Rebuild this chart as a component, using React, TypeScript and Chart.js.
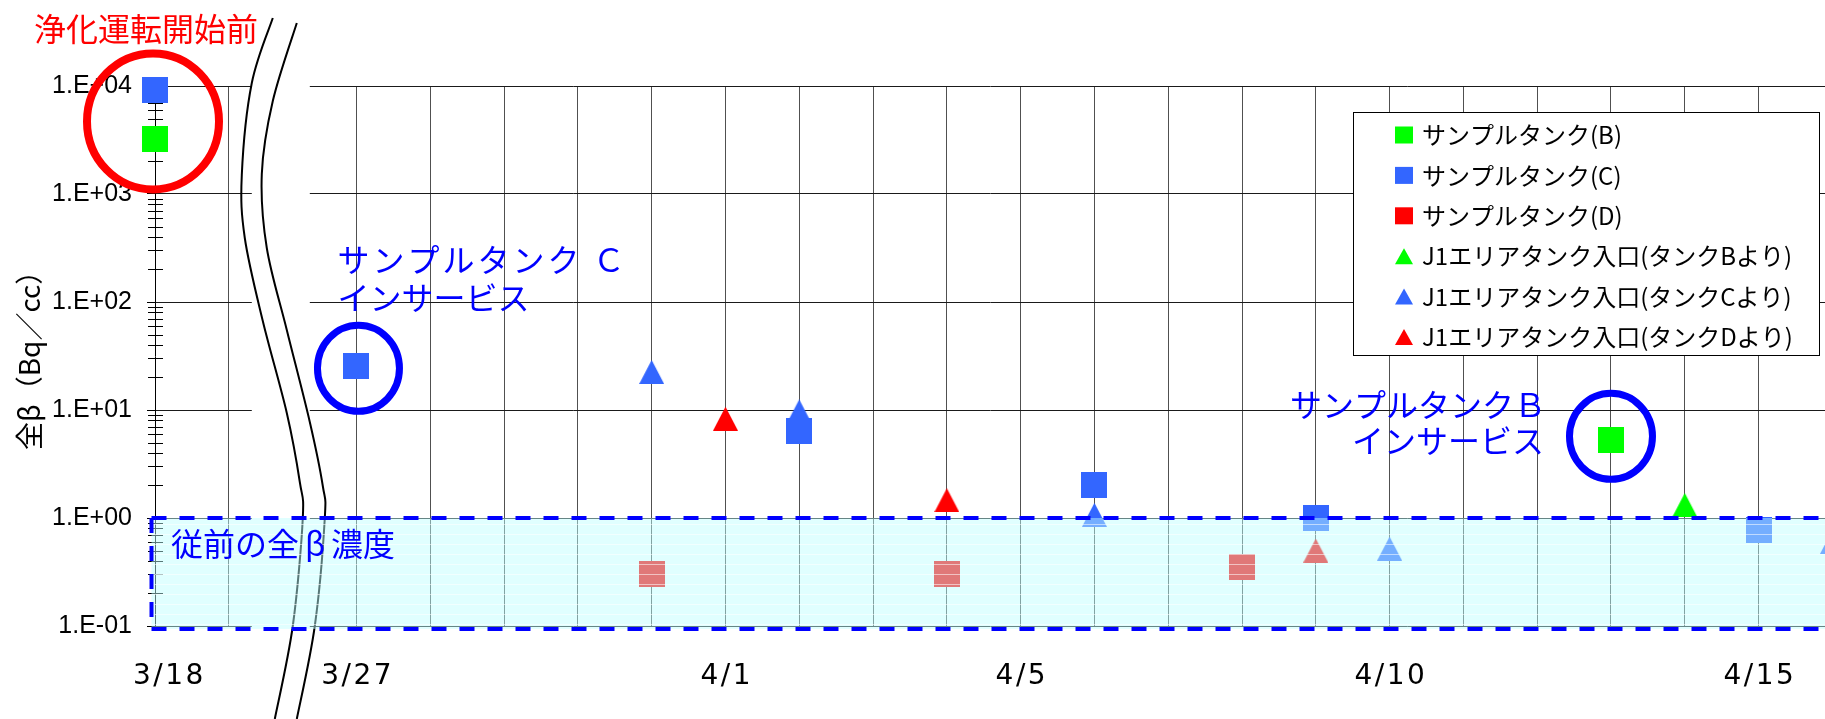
import React, { useEffect, useRef } from 'react';
import { Chart, registerables } from 'chart.js';

Chart.register(...registerables);

// ---------------- data ----------------
const SAMPLE_B_DATES = ['3/18', '4/13'];
const SAMPLE_B_VALUES = [3200, 5.3];

const SAMPLE_C_DATES = ['3/18', '3/27', '4/2', '4/6', '4/9', '4/15'];
const SAMPLE_C_VALUES = [9200, 25.5, 6.4, 2.0, 1.0, 0.77];

const SAMPLE_D_DATES = ['3/31', '4/4', '4/8'];
const SAMPLE_D_VALUES = [0.305, 0.305, 0.355];

const J1_B_DATES = ['4/14'];
const J1_B_VALUES = [1.32];

const J1_C_DATES = ['3/31', '4/2', '4/6', '4/10', '4/16'];
const J1_C_VALUES = [22.5, 9.7, 1.07, 0.52, 0.6];

const J1_D_DATES = ['4/1', '4/4', '4/9'];
const J1_D_VALUES = [8.3, 1.46, 0.5];

const SERIES_LABELS = [
  'サンプルタンク(B)',
  'サンプルタンク(C)',
  'サンプルタンク(D)',
  'J1エリアタンク入口(タンクBより)',
  'J1エリアタンク入口(タンクCより)',
  'J1エリアタンク入口(タンクDより)',
];

const X_TICK_LABELS = ['3/18', '3/27', '4/1', '4/5', '4/10', '4/15'];
const Y_TICK_VALUES = [0.1, 1, 10, 100, 1000, 10000];
const Y_TICK_LABELS = ['1.E-01', '1.E+00', '1.E+01', '1.E+02', '1.E+03', '1.E+04'];
const Y_TITLE = '全β（Bq／cc）';

const BAND_RANGE = [0.094, 1];
const BAND_LABEL = '従前の全β濃度';

const NOTE_BEFORE = '浄化運転開始前';
const NOTE_C = ['サンプルタンク Ｃ', 'インサービス'];
const NOTE_B = ['サンプルタンクＢ', 'インサービス'];

const CIRCLE_DATES = ['3/18', '3/27', '4/13'];
const CIRCLE_VALUES = [4700, 24.3, 5.7];

// axis break: 3/19 ... 3/27 compressed
const BREAK_START = '3/19';
const BREAK_END = '3/27';
const BREAK_WIDTH_DAYS = 1.73;

// ---------------- helpers ----------------
function dayIndex(d: string): number {
  const [m, dd] = d.split('/').map(Number);
  return m === 3 ? dd - 18 : 13 + dd;
}
function axisPos(d: string): number {
  const i = dayIndex(d);
  const s = dayIndex(BREAK_START);
  const e = dayIndex(BREAK_END);
  if (i <= s) return i;
  return i - (e - s) + BREAK_WIDTH_DAYS;
}
const X_MAX = axisPos('4/16') - 0.1;

const GRID_DATES: string[] = [BREAK_START];
for (let d = 27; d <= 31; d++) GRID_DATES.push(`3/${d}`);
for (let d = 1; d <= 16; d++) GRID_DATES.push(`4/${d}`);

const COLOR_B = '#00FF00';
const COLOR_C = '#3366FF';
const COLOR_D = '#FF0000';

function makeMarker(kind: string, color: string, w: number, h: number) {
  const c = document.createElement('canvas');
  c.width = w;
  c.height = h;
  const g = c.getContext('2d') as CanvasRenderingContext2D;
  g.fillStyle = color;
  if (kind === 'square') g.fillRect(0, 0, w, h);
  else {
    g.beginPath();
    g.moveTo(w / 2, 0);
    g.lineTo(w, h);
    g.lineTo(0, h);
    g.closePath();
    g.fill();
  }
  return c;
}

function drawWide(ctx: CanvasRenderingContext2D, text: string, x: number, y: number, em: number) {
  let cx = x;
  for (const ch of Array.from(text)) {
    const code = ch.codePointAt(0) || 0;
    const w = code >= 0x370 ? em : ctx.measureText(ch).width;
    ctx.textAlign = 'center';
    ctx.fillText(ch, cx + w / 2, y);
    cx += w;
  }
}

function smoothPath(ctx: CanvasRenderingContext2D, pts: number[][]) {
  ctx.moveTo(pts[0][0], pts[0][1]);
  for (let i = 0; i < pts.length - 1; i++) {
    const p0 = pts[Math.max(0, i - 1)];
    const p1 = pts[i];
    const p2 = pts[i + 1];
    const p3 = pts[Math.min(pts.length - 1, i + 2)];
    ctx.bezierCurveTo(
      p1[0] + (p2[0] - p0[0]) / 6, p1[1] + (p2[1] - p0[1]) / 6,
      p2[0] - (p3[0] - p1[0]) / 6, p2[1] - (p3[1] - p1[1]) / 6,
      p2[0], p2[1]
    );
  }
}

// break curve shapes (offsets from break centre / chart top)
const CURVE_L = [[-8, -68], [-29, -3], [-39, 89], [-36, 152], [-18, 235], [6, 327], [19, 396], [22, 432], [12, 540], [-6, 633]];
const CURVE_R = [[16, -63], [-8, 15], [-19, 88], [-14, 162], [6, 244], [29, 336], [42, 400], [44, 432], [34, 540], [16, 633]];

const CIRCLE_STYLES = [
  { rx: 66, ry: 68, w: 8, color: '#FF0000', dx: -2 },
  { rx: 41, ry: 43, w: 7, color: '#0000FF', dx: 2 },
  { rx: 41.5, ry: 43, w: 7, color: '#0000FF', dx: 0 },
];

const decorPlugin = {
  id: 'decor',
  beforeDatasetsDraw(chart: any) {
    const { ctx, chartArea: a } = chart;
    const x = chart.scales.x;
    const y = chart.scales.y;
    ctx.save();
    // minor ticks crossing the axis
    ctx.strokeStyle = '#000';
    ctx.lineWidth = 1;
    y.ticks.forEach((t: any) => {
      if (t.major) return;
      const py = Math.round(y.getPixelForValue(t.value)) + 0.5;
      ctx.beginPath();
      ctx.moveTo(a.left - 7, py);
      ctx.lineTo(a.left + 8, py);
      ctx.stroke();
    });
    // axis break
    const xc = x.getPixelForValue(axisPos(BREAK_START)) + 52;
    ctx.fillStyle = '#fff';
    ctx.fillRect(xc - 29, a.top - 1, 58, a.bottom - a.top + 3);
    ctx.strokeStyle = '#000';
    ctx.lineWidth = 2;
    [CURVE_L, CURVE_R].forEach((c) => {
      ctx.beginPath();
      smoothPath(ctx, c.map((p) => [xc + p[0], a.top + p[1]]));
      ctx.stroke();
    });
    ctx.restore();
  },
  afterDatasetsDraw(chart: any) {
    const { ctx, chartArea: a } = chart;
    const x = chart.scales.x;
    const y = chart.scales.y;
    ctx.save();
    // band
    const yTop = y.getPixelForValue(BAND_RANGE[1]);
    const yBot = y.getPixelForValue(BAND_RANGE[0]);
    const bl = a.left - 3.5;
    const br = chart.width + 20;
    ctx.fillStyle = 'rgba(189,255,255,0.47)';
    ctx.fillRect(bl, yTop, br - bl, yBot - yTop);
    ctx.strokeStyle = 'rgba(255,255,255,0.55)';
    ctx.lineWidth = 1;
    for (let sy = Math.round(yTop) + 6.5; sy < yBot - 2; sy += 10) {
      ctx.beginPath();
      ctx.moveTo(bl, sy);
      ctx.lineTo(br, sy);
      ctx.stroke();
    }
    ctx.strokeStyle = '#0000FF';
    ctx.lineWidth = 4;
    ctx.setLineDash([15, 13]);
    ctx.beginPath(); ctx.moveTo(bl, yTop); ctx.lineTo(br, yTop); ctx.stroke();
    ctx.beginPath(); ctx.moveTo(bl, yBot); ctx.lineTo(br, yBot); ctx.stroke();
    ctx.beginPath(); ctx.moveTo(bl, yTop); ctx.lineTo(bl, yBot); ctx.stroke();
    ctx.setLineDash([]);

    // band label
    ctx.font = '32px "Noto Sans CJK JP"';
    ctx.fillStyle = '#0000FF';
    ctx.textBaseline = 'middle';
    drawWide(ctx, BAND_LABEL, a.left + 16, yTop + 26, 32);

    // circles
    CIRCLE_DATES.forEach((d, i) => {
      const st = CIRCLE_STYLES[i];
      ctx.beginPath();
      ctx.ellipse(x.getPixelForValue(axisPos(d)) + st.dx, y.getPixelForValue(CIRCLE_VALUES[i]), st.rx, st.ry, 0, 0, Math.PI * 2);
      ctx.lineWidth = st.w;
      ctx.strokeStyle = st.color;
      ctx.stroke();
    });

    // notes
    const pc = x.getPixelForValue(axisPos(CIRCLE_DATES[1]));
    const pcy = y.getPixelForValue(CIRCLE_VALUES[1]);
    ctx.fillStyle = '#0000FF';
    ctx.font = '32px "Noto Sans CJK JP"';
    ctx.textAlign = 'left';
    (ctx as any).letterSpacing = '3px';
    ctx.fillText(NOTE_C[0], pc - 19, pcy - 109);
    (ctx as any).letterSpacing = '0px';
    ctx.fillText(NOTE_C[1], pc - 19, pcy - 71);

    const pb = x.getPixelForValue(axisPos(CIRCLE_DATES[2]));
    const pby = y.getPixelForValue(CIRCLE_VALUES[2]);
    ctx.textAlign = 'right';
    ctx.fillText(NOTE_B[0], pb - 65, pby - 32);
    ctx.fillText(NOTE_B[1], pb - 67, pby + 4);

    ctx.fillStyle = '#FF0000';
    ctx.textAlign = 'left';
    ctx.fillText(NOTE_BEFORE, a.left - 121, a.top - 57);

    // legend
    const lx = a.right - 472;
    const ly = a.top + 26;
    const lw = 466;
    const lh = 243;
    ctx.fillStyle = '#fff';
    ctx.fillRect(lx, ly, lw, lh);
    ctx.strokeStyle = '#000';
    ctx.lineWidth = 1;
    ctx.strokeRect(lx + 0.5, ly + 0.5, lw, lh);
    chart.data.datasets.forEach((ds: any, i: number) => {
      const cy = ly + 23 + i * 40.4;
      ctx.fillStyle = ds.markerColor;
      if (ds.markerKind === 'square') {
        ctx.fillRect(lx + 42, cy - 8.5, 18, 17);
      } else {
        ctx.beginPath();
        ctx.moveTo(lx + 51, cy - 8);
        ctx.lineTo(lx + 60, cy + 8);
        ctx.lineTo(lx + 42, cy + 8);
        ctx.closePath();
        ctx.fill();
      }
      ctx.fillStyle = '#000';
      ctx.font = '24px "Noto Sans CJK JP"';
      ctx.textAlign = 'left';
      ctx.textBaseline = 'middle';
      ctx.fillText(ds.label, lx + 69, cy);
    });

    // x labels
    ctx.fillStyle = '#000';
    ctx.font = '28px "DejaVu Sans"';
    (ctx as any).letterSpacing = '2.5px';
    ctx.textAlign = 'left';
    ctx.textBaseline = 'middle';
    X_TICK_LABELS.forEach((lab) => {
      const px = x.getPixelForValue(axisPos(lab));
      const w = ctx.measureText(lab).width - 2.5;
      const left = Math.max(px - w / 2, a.left - 22);
      ctx.fillText(lab, left, a.bottom + 51);
    });
    (ctx as any).letterSpacing = '0px';

    // y title
    ctx.translate(29, 450);
    ctx.rotate(-Math.PI / 2);
    ctx.font = '28px "Noto Sans CJK JP"';
    ctx.textAlign = 'left';
    ctx.textBaseline = 'middle';
    ctx.fillText(Y_TITLE, 0, 0);
    ctx.restore();
  },
};

export default function App() {
  const ref = useRef<HTMLCanvasElement | null>(null);
  useEffect(() => {
    document.body.style.margin = '0';
    const canvas = ref.current;
    if (!canvas) return;
    const SQ = 26;
    const TW = 25;
    const TH = 24;
    const mk = (label: string, dates: string[], values: number[], kind: string, color: string) => ({
      label,
      data: dates.map((d, i) => ({ x: axisPos(d), y: values[i] })),
      pointStyle: kind === 'square' ? makeMarker('square', color, SQ, SQ) : makeMarker('triangle', color, TW, TH),
      pointRadius: 13,
      pointHoverRadius: 13,
      showLine: false,
      clip: false,
      backgroundColor: color,
      borderColor: color,
      markerKind: kind,
      markerColor: color,
    });
    const yTicks: any[] = [];
    for (let e = -1; e <= 4; e++) {
      for (let m = 1; m <= 9; m++) {
        if (e === 4 && m > 1) break;
        yTicks.push({ value: m * Math.pow(10, e), major: m === 1 });
      }
    }
    const chart = new Chart(canvas, {
      type: 'scatter',
      data: {
        datasets: [
          mk(SERIES_LABELS[0], SAMPLE_B_DATES, SAMPLE_B_VALUES, 'square', COLOR_B),
          mk(SERIES_LABELS[1], SAMPLE_C_DATES, SAMPLE_C_VALUES, 'square', COLOR_C),
          mk(SERIES_LABELS[2], SAMPLE_D_DATES, SAMPLE_D_VALUES, 'square', COLOR_D),
          mk(SERIES_LABELS[3], J1_B_DATES, J1_B_VALUES, 'triangle', COLOR_B),
          mk(SERIES_LABELS[4], J1_C_DATES, J1_C_VALUES, 'triangle', COLOR_C),
          mk(SERIES_LABELS[5], J1_D_DATES, J1_D_VALUES, 'triangle', COLOR_D),
        ] as any,
      },
      options: {
        responsive: false,
        animation: false,
        events: [],
        layout: { autoPadding: false, padding: { top: 86, right: 0, bottom: 0, left: 0 } },
        plugins: {
          legend: { display: false },
          tooltip: { enabled: false },
        },
        scales: {
          x: {
            type: 'linear',
            min: 0,
            max: X_MAX,
            position: 'bottom',
            afterFit: (s: any) => { s.height = 93; },
            afterBuildTicks: (s: any) => { s.ticks = GRID_DATES.map((d) => ({ value: axisPos(d) })); },
            ticks: { display: false },
            grid: { color: '#505050', lineWidth: 1, drawTicks: false },
            border: { display: false },
          },
          y: {
            type: 'logarithmic',
            min: 0.1,
            max: 10000,
            position: 'left',
            afterFit: (s: any) => { s.width = 155; },
            afterBuildTicks: (s: any) => { s.ticks = yTicks.map((t) => ({ ...t })); },
            ticks: {
              autoSkip: false,
              padding: 15,
              color: '#000',
              font: { family: 'Liberation Sans', size: 25 },
              callback: (v: any) => {
                const i = Y_TICK_VALUES.findIndex((t) => Math.abs(t - v) / t < 1e-9);
                return i >= 0 ? Y_TICK_LABELS[i] : '';
              },
            },
            grid: {
              color: (c: any) => (c.tick && c.tick.major ? '#1a1a1a' : 'rgba(0,0,0,0)'),
              tickColor: (c: any) => (c.tick && c.tick.major ? '#000' : 'rgba(0,0,0,0)'),
              tickLength: 8,
              lineWidth: 1,
            },
            border: { display: true, color: '#000', width: 1 },
          },
        },
      } as any,
      plugins: [decorPlugin],
    });
    return () => chart.destroy();
  }, []);
  return (
    <div style={{ width: 1825, height: 719 }}>
      <canvas ref={ref} width={1825} height={719} style={{ display: 'block' }} />
    </div>
  );
}
